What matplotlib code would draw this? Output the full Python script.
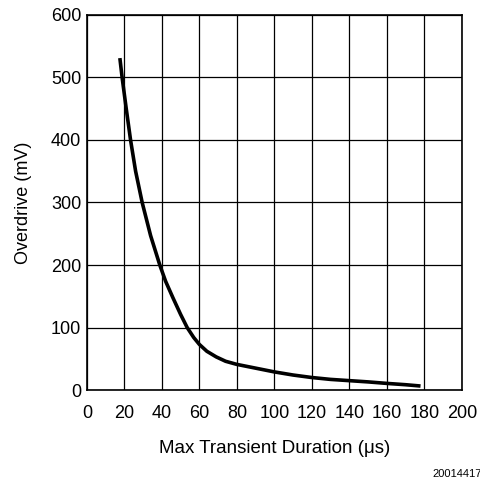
import matplotlib
matplotlib.use("Agg")
import matplotlib.pyplot as plt

plt.rcParams['font.family'] = ['Liberation Sans', 'DejaVu Sans']

# curve
duration_us = [17.6, 18.8, 21, 23.3, 26, 29.5, 34, 38.9, 42, 46, 50,
               53.5, 57, 60, 64, 69, 74, 80, 90, 100, 110, 120, 130, 140,
               150, 160, 170, 178]
overdrive_mv = [531, 500, 450, 400, 350, 300, 247, 200, 174, 147, 121,
                100, 84, 73, 62, 53, 46, 41, 35, 29, 24, 20, 17, 15,
                13, 10.6, 8.5, 6.4]

x_ticks = list(range(0, 201, 20))
y_ticks = list(range(0, 601, 100))

fig = plt.figure(figsize=(4.8, 4.83), dpi=100)
ax = fig.add_axes([0.181, 0.1925, 0.781, 0.7765])

ax.plot(duration_us, overdrive_mv, color='black', linewidth=2.6,
        solid_capstyle='butt', solid_joinstyle='round')

ax.set_xlim(0, 200)
ax.set_ylim(0, 600)
ax.set_xticks(x_ticks)
ax.set_yticks(y_ticks)
ax.grid(True, color='black', linewidth=0.9)
ax.tick_params(length=0, labelsize=13)
ax.tick_params(axis='x', pad=11)
ax.tick_params(axis='y', pad=4)
for s in ax.spines.values():
    s.set_linewidth(1.2)

ax.set_xlabel('Max Transient Duration (\u03bcs)', fontsize=13.5, labelpad=13)
ax.set_ylabel('Overdrive (mV)', fontsize=13, labelpad=14)

fig.text(0.9, 0.012, '20014417', fontsize=8, ha='left')

fig.savefig('out.png', dpi=100)
